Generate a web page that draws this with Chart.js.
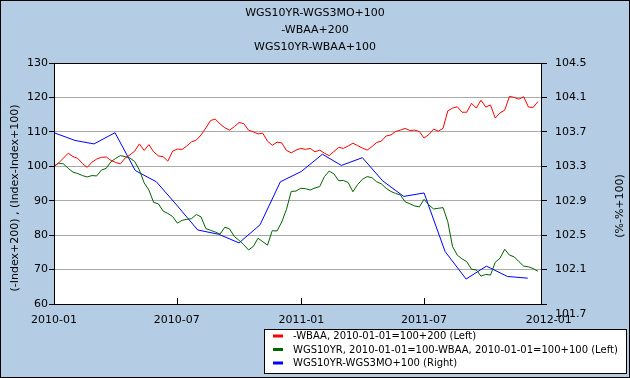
<!DOCTYPE html>
<html><head><meta charset="utf-8">
<script src="https://cdn.jsdelivr.net/npm/chart.js@4"></script>
<style>html,body{margin:0;padding:0;background:#b4cde4;}canvas{display:block}</style>
</head><body>
<canvas id="c" width="630" height="378"></canvas>
<script>
const titleLines = ['WGS10YR-WGS3MO+100', '-WBAA+200', 'WGS10YR-WBAA+100'];
const leftAxisTitle = '(-Index+200) , (Index-Index+100)';
const rightAxisTitle = '(%-%+100)';
const xTickDates = ['2010-01-01', '2010-07-01', '2011-01-01', '2011-07-01', '2012-01-01'];
const xTickLabels = ['2010-01', '2010-07', '2011-01', '2011-07', '2012-01'];
const leftTicks = [60, 70, 80, 90, 100, 110, 120, 130];
const rightTicks = [101.7, 102.1, 102.5, 102.9, 103.3, 103.7, 104.1, 104.5];
const seriesLabels = [
  '-WBAA, 2010-01-01=100+200 (Left)',
  'WGS10YR, 2010-01-01=100-WBAA, 2010-01-01=100+100 (Left)',
  'WGS10YR-WGS3MO+100 (Right)'
];
const seriesColors = ['#ff0000', '#006400', '#0000ff'];

const weekDates = [
  '2010-01-01','2010-01-08','2010-01-15','2010-01-22','2010-01-29','2010-02-05','2010-02-12','2010-02-19','2010-02-26',
  '2010-03-05','2010-03-12','2010-03-19','2010-03-26','2010-04-02','2010-04-09','2010-04-16','2010-04-23','2010-04-30',
  '2010-05-07','2010-05-14','2010-05-21','2010-05-28','2010-06-04','2010-06-11','2010-06-18','2010-06-25',
  '2010-07-02','2010-07-09','2010-07-16','2010-07-23','2010-07-30','2010-08-06','2010-08-13','2010-08-20','2010-08-27',
  '2010-09-03','2010-09-10','2010-09-17','2010-09-24','2010-10-01','2010-10-08','2010-10-15','2010-10-22','2010-10-29',
  '2010-11-05','2010-11-12','2010-11-19','2010-11-26','2010-12-03','2010-12-10','2010-12-17','2010-12-24','2010-12-31',
  '2011-01-07','2011-01-14','2011-01-21','2011-01-28','2011-02-04','2011-02-11','2011-02-18','2011-02-25',
  '2011-03-04','2011-03-11','2011-03-18','2011-03-25','2011-04-01','2011-04-08','2011-04-15','2011-04-22','2011-04-29',
  '2011-05-06','2011-05-13','2011-05-20','2011-05-27','2011-06-03','2011-06-10','2011-06-17','2011-06-24',
  '2011-07-01','2011-07-08','2011-07-15','2011-07-22','2011-07-29','2011-08-05','2011-08-12','2011-08-19','2011-08-26',
  '2011-09-02','2011-09-09','2011-09-16','2011-09-23','2011-09-30','2011-10-07','2011-10-14','2011-10-21','2011-10-28',
  '2011-11-04','2011-11-11','2011-11-18','2011-11-25','2011-12-02','2011-12-09','2011-12-16'
];
const redValues = [
  100.0,101.0,102.4,103.8,102.8,102.3,100.8,99.7,101.2,102.1,
  102.6,102.7,101.7,101.1,100.7,102.4,103.3,104.4,106.5,104.6,
  106.3,104.2,103.0,102.8,101.5,104.4,105.0,104.9,105.9,107.1,
  107.6,109.1,111.1,113.3,113.7,112.3,111.2,110.5,111.5,112.7,
  112.4,110.5,110.0,109.4,109.6,107.3,106.1,107.0,106.8,104.6,
  103.9,104.7,105.2,104.9,105.2,104.2,104.7,103.8,103.1,104.3,
  105.5,105.2,105.9,106.7,106.0,105.3,104.7,105.7,106.9,107.3,
  108.8,109.1,110.1,110.5,111.0,110.4,110.5,110.1,108.2,109.2,
  110.8,110.2,111.0,116.1,116.9,117.3,115.7,115.7,118.3,116.9,
  119.2,117.2,117.8,114.0,115.5,116.3,120.3,120.0,119.5,120.2,
  117.2,117.1,118.8
];
const greenValues = [
  100.0,100.9,100.7,99.4,98.3,97.9,97.3,96.9,97.3,97.2,
  98.9,99.4,101.3,102.3,103.1,102.8,102.4,101.4,98.9,95.2,
  93.1,89.5,89.1,87.0,86.3,85.4,83.5,84.3,84.6,84.8,
  86.0,85.3,81.9,81.4,80.9,80.3,82.3,81.8,79.6,78.5,
  77.2,75.7,76.7,79.1,78.1,77.1,81.3,81.2,83.8,87.5,
  92.7,92.8,93.6,93.5,93.1,93.7,94.1,97.0,98.6,97.8,
  95.8,95.9,95.3,92.6,94.7,96.2,97.0,96.7,95.5,94.9,
  93.6,92.7,92.1,91.7,89.7,89.1,88.5,88.2,90.4,88.8,
  87.6,87.8,88.0,83.9,76.7,74.2,73.1,72.3,70.1,69.9,
  68.1,68.6,68.4,72.1,73.3,75.9,74.2,73.7,72.3,71.0,
  70.8,70.3,69.5
];
const monthDates = [
  '2010-01-01','2010-02-01','2010-03-01','2010-04-01','2010-05-01','2010-06-01',
  '2010-07-01','2010-08-01','2010-09-01','2010-10-01','2010-11-01','2010-12-01',
  '2011-01-01','2011-02-01','2011-03-01','2011-04-01','2011-05-01','2011-06-01',
  '2011-07-01','2011-08-01','2011-09-01','2011-10-01','2011-11-01','2011-12-01'
];
const blueValues = [
  103.69,103.60,103.56,103.69,103.25,103.12,102.85,102.56,102.51,102.41,102.62,103.12,
  103.24,103.44,103.31,103.40,103.13,102.95,102.99,102.31,101.99,102.14,102.02,102.00
];

const FONT = 'DejaVu Sans';
const ORIGIN = Date.parse('2010-01-01T00:00:00Z');
const dayOf = d => (Date.parse(d + 'T00:00:00Z') - ORIGIN) / 86400000;
const pts = (dates, vals) => dates.map((d, i) => ({x: dayOf(d), y: vals[i]}));

const decor = {
  id: 'decor',
  beforeDraw(chart) {
    const c = chart.ctx, a = chart.chartArea;
    c.save();
    c.fillStyle = '#b4cde4';
    c.fillRect(0, 0, chart.width, chart.height);
    c.fillStyle = '#ffffff';
    c.fillRect(a.left, a.top, a.right - a.left, a.bottom - a.top);
    c.restore();
  },
  afterDraw(chart) {
    const c = chart.ctx, a = chart.chartArea;
    const xs = chart.scales.x;
    c.save();
    c.strokeStyle = '#000';
    c.lineWidth = 1;
    c.strokeRect(Math.round(a.left) + 0.5, Math.round(a.top) + 0.5, Math.round(a.right - a.left) - 1, Math.round(a.bottom - a.top));
    c.beginPath();
    xs.ticks.forEach(t => {
      const px = Math.round(xs.getPixelForValue(t.value)) + 0.5;
      if (px > a.left + 1 && px < a.right - 1) {
        c.moveTo(px, a.bottom);
        c.lineTo(px, a.bottom - 6);
      }
    });
    c.stroke();
    c.fillStyle = '#000';
    c.font = '11px "' + FONT + '"';
    c.textAlign = 'center';
    c.textBaseline = 'middle';
    c.save(); c.translate(15, 198); c.rotate(-Math.PI / 2); c.fillText(leftAxisTitle, 0, 0); c.restore();
    c.save(); c.translate(620, 206); c.rotate(-Math.PI / 2); c.fillText(rightAxisTitle, 0, 0); c.restore();
    c.fillStyle = '#fff';
    c.fillRect(264.5, 329.5, 362, 44);
    c.strokeStyle = '#000';
    c.strokeRect(264.5, 329.5, 362, 44);
    const rows = [336, 349.5, 363];
    c.font = '10px "' + FONT + '"';
    c.textAlign = 'left';
    chart.data.datasets.forEach((ds, i) => {
      c.strokeStyle = ds.borderColor;
      c.lineWidth = 3;
      c.beginPath(); c.moveTo(273, rows[i]); c.lineTo(283, rows[i]); c.stroke();
      c.fillStyle = '#000';
      c.fillText(ds.label, 293, rows[i] + 0.5);
    });
    c.strokeStyle = '#000';
    c.lineWidth = 1;
    c.strokeRect(0.5, 0.5, chart.width - 1, chart.height - 1);
    c.restore();
  }
};

new Chart(document.getElementById('c'), {
  type: 'line',
  data: {
    datasets: [
      {label: seriesLabels[0], data: pts(weekDates, redValues), borderColor: seriesColors[0], yAxisID: 'y'},
      {label: seriesLabels[1], data: pts(weekDates, greenValues), borderColor: seriesColors[1], yAxisID: 'y'},
      {label: seriesLabels[2], data: pts(monthDates, blueValues), borderColor: seriesColors[2], yAxisID: 'y1'}
    ]
  },
  options: {
    responsive: false,
    animation: false,
    devicePixelRatio: 1,
    layout: {padding: 0},
    elements: {
      line: {borderWidth: 1, tension: 0, fill: false},
      point: {radius: 0, hoverRadius: 0}
    },
    plugins: {
      legend: {display: false},
      tooltip: {enabled: false},
      title: {
        display: true, text: titleLines, color: '#000',
        font: {family: FONT, size: 11, weight: 'normal', lineHeight: '17px'},
        padding: {top: 5, bottom: 7}
      }
    },
    scales: {
      x: {
        type: 'linear', min: 0, max: 720,
        afterBuildTicks: s => { s.ticks = xTickDates.map(d => ({value: dayOf(d)})); },
        ticks: {autoSkip: false, maxRotation: 0, padding: 2, color: '#000',
          font: {family: FONT, size: 11}, callback: (v, i) => xTickLabels[i]},
        grid: {display: false},
        border: {display: false},
        afterFit: s => { s.height = 74; }
      },
      y: {
        position: 'left', min: 60, max: 130,
        afterBuildTicks: s => { s.ticks = leftTicks.map(v => ({value: v})); },
        ticks: {autoSkip: false, padding: 1, color: '#000', font: {family: FONT, size: 11}, callback: v => String(v)},
        grid: {color: '#a9a9a9', lineWidth: 1, tickLength: 5, tickColor: '#000'},
        border: {display: false},
        afterFit: s => { s.width = 54; }
      },
      y1: {
        position: 'right', min: 101.7, max: 104.5,
        afterBuildTicks: s => { s.ticks = rightTicks.map(v => ({value: v})); },
        ticks: {autoSkip: false, padding: 8, color: '#000',
          font: ctx => ({family: FONT, size: 11, lineHeight: ctx.index === 0 ? '20px' : 1.2}),
          callback: (v, i) => i === 0 ? ['', v.toFixed(1)] : v.toFixed(1)},
        grid: {drawOnChartArea: false, tickLength: 5, tickColor: '#000', color: '#000'},
        border: {display: false},
        afterFit: s => { s.width = 88; }
      }
    }
  },
  plugins: [decor]
});
</script>
</body></html>
